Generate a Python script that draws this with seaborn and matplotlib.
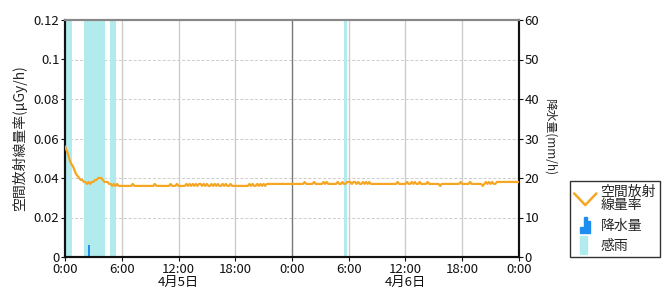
import numpy as np
import pandas as pd
import matplotlib
matplotlib.use("Agg")
import matplotlib.pyplot as plt
import seaborn as sns
from matplotlib.legend_handler import HandlerBase
from matplotlib.lines import Line2D
from matplotlib.patches import Patch, Polygon, Rectangle

# ---- data ----
# air dose rate, 10-minute readings in units of 0.001 uGy/h, one row per hour, 4/5 0:00 .. 4/7 0:00
dose_rows = [
    [56, 54, 52, 49, 47, 46],
    [44, 42, 41, 40, 39, 39],
    [38, 38, 37, 38, 37, 38],
    [38, 39, 39, 40, 40, 40],
    [39, 38, 38, 38, 37, 37],
    [36, 37, 36, 37, 36, 36],
    [36, 36, 36, 36, 36, 36],
    [36, 37, 36, 36, 36, 36],
    [36, 36, 36, 36, 36, 36],
    [36, 36, 36, 37, 36, 36],
    [36, 36, 36, 36, 36, 36],
    [36, 37, 36, 36, 36, 37],
    [36, 36, 36, 36, 36, 37],
    [36, 37, 36, 37, 36, 37],
    [36, 37, 37, 36, 37, 36],
    [37, 36, 36, 37, 36, 37],
    [36, 37, 36, 36, 37, 36],
    [37, 36, 36, 37, 36, 36],
    [36, 36, 36, 36, 36, 36],
    [36, 36, 36, 37, 36, 37],
    [36, 36, 37, 36, 37, 36],
    [37, 36, 37, 37, 37, 37],
    [37, 37, 37, 37, 37, 37],
    [37, 37, 37, 37, 37, 37],
    [37, 37, 37, 37, 37, 37],
    [37, 37, 38, 37, 37, 37],
    [37, 37, 38, 37, 37, 37],
    [37, 37, 38, 37, 38, 37],
    [37, 37, 37, 37, 37, 38],
    [37, 37, 38, 37, 37, 38],
    [38, 38, 37, 38, 38, 37],
    [38, 37, 37, 38, 37, 38],
    [37, 38, 37, 37, 37, 37],
    [37, 37, 37, 37, 37, 37],
    [37, 37, 37, 37, 37, 37],
    [37, 38, 37, 37, 37, 37],
    [37, 38, 37, 37, 38, 37],
    [38, 37, 37, 38, 37, 37],
    [37, 37, 38, 37, 37, 37],
    [37, 37, 37, 37, 36, 37],
    [37, 37, 37, 37, 37, 37],
    [37, 37, 37, 37, 37, 38],
    [37, 37, 37, 37, 37, 38],
    [37, 37, 37, 37, 37, 37],
    [37, 36, 37, 38, 37, 38],
    [37, 38, 37, 37, 38, 38],
    [38, 38, 38, 38, 38, 38],
    [38, 38, 38, 38, 38, 38],
    [38],
]

# precipitation (mm/h): time in hours from 4/5 0:00
rain_hours = [2.5]
rain_mm = [3.0]

# rain-sensor (感雨) periods: start, end in hours from 4/5 0:00
wet_start = [0.0, 2.0, 4.75, 29.5]
wet_end = [0.77, 4.2, 5.35, 29.85]

tick_hours = [0, 6, 12, 18, 24, 30, 36, 42, 48]
tick_labels = ["0:00", "6:00", "12:00\n4月5日", "18:00", "0:00",
               "6:00", "12:00\n4月6日", "18:00", "0:00"]
left_ticks = [0, 0.02, 0.04, 0.06, 0.08, 0.1, 0.12]
left_tick_labels = ["0", "0.02", "0.04", "0.06", "0.08", "0.1", "0.12"]
right_ticks = [0, 10, 20, 30, 40, 50, 60]

dose_vals = [v / 1000 for row in dose_rows for v in row]
dose_df = pd.DataFrame({"hour": [i / 6 for i in range(len(dose_vals))],
                        "dose": dose_vals})

# ---- styling ----
LINE_C = "#F5A623"
RAIN_C = "#1E8FF0"
WET_C = "#B2EBEE"

sns.set_theme(style="white")
plt.rcParams["font.family"] = ["Noto Sans CJK JP", "DejaVu Sans"]
plt.rcParams["font.size"] = 9

fig = plt.figure(figsize=(6.7, 3.0), dpi=100)
ax2 = fig.add_axes([65 / 670, 43 / 300, 454 / 670, 237 / 300])
ax2.yaxis.tick_right()
ax2.yaxis.set_label_position("right")
ax = ax2.twinx()  # left axis on top, transparent
ax.yaxis.tick_left()
ax.yaxis.set_label_position("left")

ax2.set_xlim(0, 48)
ax.set_xlim(0, 48)
ax.set_ylim(0, 0.12)
ax2.set_ylim(0, 60)

# background: grid, shading, rain bars on the lower (right-scale) axes
for t in right_ticks[1:-1]:
    ax2.axhline(t, color="#cccccc", ls=(0, (3, 2)), lw=0.7, zorder=0.2)
for h in tick_hours[1:-1]:
    ax2.axvline(h, color="#777777" if h == 24 else "#cccccc", lw=1.0, zorder=0.3)
for s, e in zip(wet_start, wet_end):
    ax2.axvspan(s, e, color=WET_C, lw=0, zorder=0.5)
ax2.bar(rain_hours, rain_mm, width=0.2, color=RAIN_C, edgecolor="none",
        linewidth=0, align="center", zorder=2)

ax.patch.set_visible(False)
sns.lineplot(data=dose_df, x="hour", y="dose", ax=ax, color=LINE_C, lw=1.6, zorder=3)

ax2.set_xticks(tick_hours)
ax2.set_xticklabels(tick_labels, fontsize=9.5, linespacing=1.0)
ax.set_yticks(left_ticks)
ax.set_yticklabels(left_tick_labels, fontsize=9.5)
ax2.set_yticks(right_ticks)
ax2.set_yticklabels([str(t) for t in right_ticks], fontsize=9.5)
ax.set_xlabel("")
ax2.set_xlabel("")
ax.set_ylabel("空間放射線量率(μGy/h)", fontsize=10)
ax.yaxis.set_label_coords(-0.084, 0.5)
ax2.set_ylabel("降水量(mm/h)", fontsize=8.5, rotation=-90)
ax2.yaxis.set_label_coords(1.082, 0.51)

for a in (ax, ax2):
    a.tick_params(axis="both", length=3, width=0.8, pad=1, colors="#111111",
                  direction="out")
ax.tick_params(axis="y", left=True, right=False, labelright=False, labelleft=True)
ax.tick_params(axis="x", bottom=False, labelbottom=False)
ax2.tick_params(axis="y", right=True, left=False, labelleft=False, labelright=True)
ax2.tick_params(axis="x", bottom=True)

for a in (ax, ax2):
    for side in ("left", "right", "bottom"):
        a.spines[side].set_color("#111111")
        a.spines[side].set_linewidth(1.5)
    a.spines["top"].set_color("#888888")
    a.spines["top"].set_linewidth(1.5)


class ZigzagHandler(HandlerBase):
    def create_artists(self, legend, orig, xd, yd, w, h, fontsize, trans):
        xs = [xd, xd + w / 2, xd + w]
        ys = [yd + 1.1 * h, yd - 0.1 * h, yd + 1.1 * h]
        ln = Line2D(xs, ys, color=LINE_C, lw=1.8, transform=trans)
        return [ln]


class StepHandler(HandlerBase):
    def create_artists(self, legend, orig, xd, yd, w, h, fontsize, trans):
        cx = xd + w / 2
        pts = [(cx - 0.25 * w, yd - 0.4 * h), (cx + 0.2 * w, yd - 0.4 * h),
               (cx + 0.2 * w, yd + 0.9 * h), (cx + 0.08 * w, yd + 0.9 * h),
               (cx + 0.08 * w, yd + 1.3 * h), (cx - 0.06 * w, yd + 1.3 * h),
               (cx - 0.06 * w, yd + 0.3 * h), (cx - 0.25 * w, yd + 0.3 * h)]
        p = Polygon(pts, closed=True, color=RAIN_C, transform=trans)
        return [p]


class WetHandler(HandlerBase):
    def create_artists(self, legend, orig, xd, yd, w, h, fontsize, trans):
        r = Rectangle((xd + 0.28 * w, yd - 0.4 * h), 0.32 * w, 1.8 * h,
                      color=WET_C, transform=trans)
        return [r]


h1 = Line2D([], [], color=LINE_C)
h2 = Patch(color=RAIN_C)
h3 = Patch(color=WET_C)
leg = fig.legend([h1, h2, h3], ["空間放射\n線量率", "降水量", "感雨"],
                 handler_map={h1: ZigzagHandler(), h2: StepHandler(), h3: WetHandler()},
                 loc="lower left", bbox_to_anchor=(570 / 670, 43 / 300),
                 fontsize=10, frameon=True, fancybox=False, edgecolor="black",
                 handlelength=1.6, handletextpad=0.3, labelspacing=0.45,
                 borderpad=0.3, borderaxespad=0)
leg.get_frame().set_linewidth(1.0)
for t in leg.get_texts():
    t.set_linespacing(0.95)

fig.savefig("out.png", dpi=100, facecolor="white")
